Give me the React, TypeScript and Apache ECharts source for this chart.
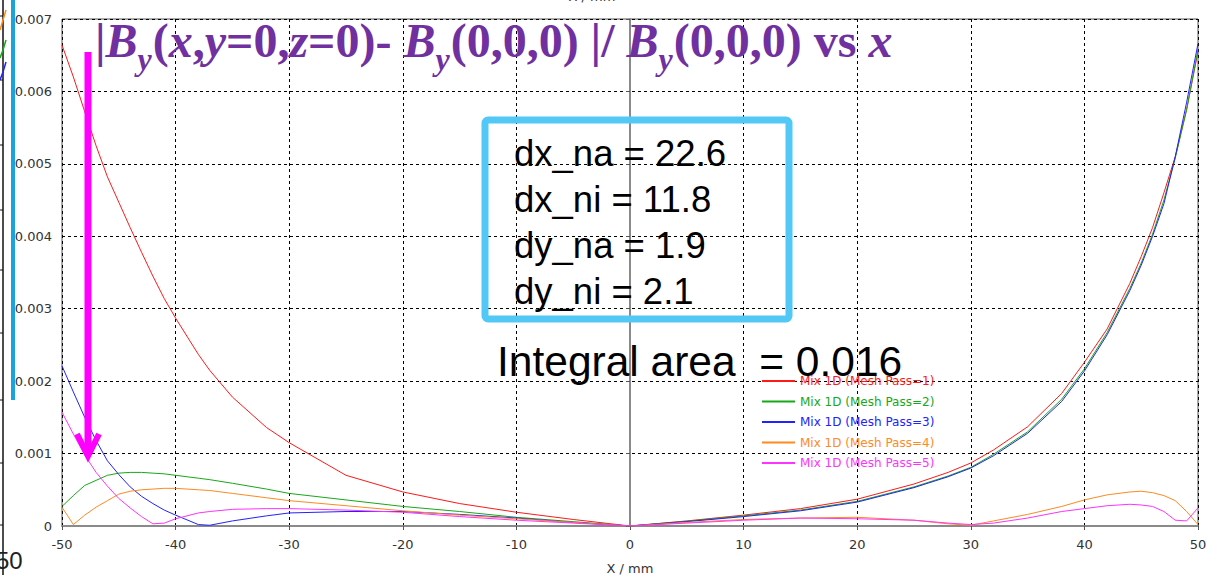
import React, { useEffect, useRef } from "react";
import * as echarts from "echarts";

const xPositions = [-50, -49, -48, -47, -46, -45, -44, -43, -42, -41, -40, -38, -37, -35, -32, -30, -25, -20, -15, -10, -5, 0, 5, 10, 15, 20, 25, 28, 30, 32, 35, 38, 40, 42, 44, 45, 46, 47, 48, 49, 50];

const pass1 = [0.00664, 0.0062, 0.00572, 0.00525, 0.00482, 0.00447, 0.00412, 0.00378, 0.00345, 0.00314, 0.00287, 0.00237, 0.00215, 0.00178, 0.00136, 0.00115, 0.0007, 0.00047, 0.00031, 0.00019, 0.00009, 0, 0.00007, 0.00015, 0.00024, 0.00037, 0.00058, 0.00074, 0.00087, 0.00105, 0.00137, 0.00183, 0.00226, 0.00272, 0.00335, 0.00372, 0.00412, 0.0046, 0.0051, 0.00575, 0.00655];
const pass2 = [0.00027, 0.00042, 0.00056, 0.00063, 0.0007, 0.00073, 0.00074, 0.00074, 0.00073, 0.00072, 0.0007, 0.00066, 0.00064, 0.00059, 0.00051, 0.00045, 0.00036, 0.00027, 0.0002, 0.00012, 0.00006, 0, 0.000065, 0.00014, 0.00022, 0.00034, 0.00054, 0.00069, 0.00081, 0.00099, 0.0013, 0.00175, 0.00217, 0.00267, 0.00328, 0.00363, 0.00403, 0.0045, 0.00508, 0.00575, 0.00658];
const pass3 = [0.00221, 0.00185, 0.0015, 0.00118, 0.0009, 0.00071, 0.00054, 0.00041, 0.00031, 0.00022, 0.00015, 0.00002, 0.00001, 0.00007, 0.00014, 0.00018, 0.0002, 0.0002, 0.00016, 0.00011, 0.00005, 0, 0.00006, 0.00013, 0.00021, 0.00033, 0.00053, 0.00068, 0.0008, 0.00097, 0.00128, 0.00172, 0.00214, 0.00264, 0.00325, 0.0036, 0.004, 0.00445, 0.0051, 0.00585, 0.00666];
const pass4 = [0.00026, 0.00002, 0.00015, 0.00026, 0.00035, 0.00044, 0.00048, 0.0005, 0.00051, 0.00052, 0.00052, 0.0005, 0.00049, 0.00045, 0.00039, 0.00035, 0.00028, 0.00021, 0.00015, 0.0001, 0.00005, 0, 0.00005, 0.00009, 0.00011, 0.00012, 0.00008, 0.00003, 0.00001, 0.00007, 0.00016, 0.00027, 0.00036, 0.00043, 0.00047, 0.00048, 0.00046, 0.00042, 0.00035, 0.0002, 0.00002];
const pass5 = [0.00157, 0.00127, 0.00098, 0.00074, 0.00055, 0.00038, 0.00025, 0.00013, 0.00003, 0.00004, 0.0001, 0.00018, 0.0002, 0.00023, 0.00024, 0.00024, 0.00022, 0.00019, 0.00013, 0.00008, 0.00004, 0, 0.00004, 0.00008, 0.00011, 0.0001, 0.00008, 0.00004, 0.00002, 0.00004, 0.00011, 0.0002, 0.00024, 0.00028, 0.0003, 0.00029, 0.00027, 0.0002, 0.00008, 0.00007, 0.00025];

const seriesNames = [
  "Mix 1D (Mesh Pass=1)",
  "Mix 1D (Mesh Pass=2)",
  "Mix 1D (Mesh Pass=3)",
  "Mix 1D (Mesh Pass=4)",
  "Mix 1D (Mesh Pass=5)",
];
const seriesValues = [pass1, pass2, pass3, pass4, pass5];
const seriesColors = ["#ff1a1a", "#17a817", "#2222ff", "#ff8a1f", "#ff33ff"];

const xTicks = [-50, -40, -30, -20, -10, 0, 10, 20, 30, 40, 50];
const yTicks = [0, 0.001, 0.002, 0.003, 0.004, 0.005, 0.006, 0.007];

// title pieces: [text, kind] where n = upright, i = italic, s = italic subscript
const titlePieces: [string, string][] = [
  ["|", "n"], ["B", "i"], ["y", "s"], ["(", "n"], ["x", "i"], [",", "n"], ["y", "i"], ["=0,", "n"], ["z", "i"],
  ["=0)- ", "n"], ["B", "i"], ["y", "s"], ["(0,0,0) |/ ", "n"], ["B", "i"], ["y", "s"], ["(0,0,0) vs ", "n"], ["x", "i"],
];

const boxLines = ["dx_na = 22.6", "dx_ni = 11.8", "dy_na = 1.9", "dy_ni = 2.1"];
const integralText = "Integral area  = 0.016";

export default function App() {
  const ref = useRef<HTMLDivElement>(null);

  useEffect(() => {
    document.body.style.margin = "0";
    const chart = echarts.init(ref.current!, null, { renderer: "svg" });
    const purple = "#7030a0";
    const fontFor: Record<string, string> = {
      n: "bold 48px 'Liberation Serif'",
      i: "italic bold 48px 'Liberation Serif'",
      s: "italic bold 32px 'Liberation Serif'",
    };
    const ctx = document.createElement("canvas").getContext("2d")!;
    let cx = 95;
    const titleEls: any[] = titlePieces.map(([t, k]) => {
      ctx.font = fontFor[k];
      const w = ctx.measureText(t).width;
      const el = {
        type: "text",
        z: 10,
        x: cx,
        y: k === "s" ? 75 : 64,
        style: { text: t, font: fontFor[k], fill: purple, verticalAlign: "bottom" },
      };
      cx += w + (k === "s" ? 1 : 0);
      return el;
    });

    const option: any = {
      animation: false,
      backgroundColor: "#ffffff",
      grid: {
        left: 62,
        right: 32,
        top: 19,
        bottom: 48,
        show: true,
        borderColor: "#555555",
        borderWidth: 1,
      },
      xAxis: {
        type: "value",
        min: xTicks[0],
        max: xTicks[xTicks.length - 1],
        interval: 10,
        name: "X / mm",
        nameLocation: "middle",
        nameGap: 36,
        nameTextStyle: { fontFamily: "DejaVu Sans", fontSize: 13, color: "#333" },
        axisLine: { lineStyle: { color: "#8a8a8a", width: 2 } },
        axisTick: { show: true, length: 4, lineStyle: { color: "#555" } },
        axisLabel: { fontFamily: "DejaVu Sans", fontSize: 13, color: "#333", margin: 12 },
        splitLine: { show: true, lineStyle: { type: [3, 3], color: "#000", width: 1 } },
      },
      yAxis: {
        type: "value",
        min: yTicks[0],
        max: yTicks[yTicks.length - 1],
        interval: 0.001,
        axisLine: { show: true, lineStyle: { color: "#8a8a8a", width: 2 } },
        axisTick: { show: true, length: 4, lineStyle: { color: "#555" } },
        axisLabel: {
          fontFamily: "DejaVu Sans",
          fontSize: 13,
          color: "#333",
          margin: 10,
          formatter: (v: number) => (v === 0 ? "0" : v.toFixed(3)),
        },
        splitLine: { show: true, lineStyle: { type: [3, 3], color: "#000", width: 1 } },
      },
      legend: {
        orient: "vertical",
        left: 757,
        top: 369,
        itemWidth: 33,
        itemHeight: 2,
        itemGap: 6.5,
        icon: "rect",
        textStyle: { fontFamily: "DejaVu Sans", fontSize: 12, lineHeight: 14 },
        data: seriesNames.map((n, i) => ({ name: n, textStyle: { color: seriesColors[i] } })),
      },
      series: seriesNames.map((n, i) => ({
        name: n,
        type: "line",
        showSymbol: false,
        symbol: "none",
        color: seriesColors[i],
        lineStyle: { width: 1, color: seriesColors[i] },
        data: xPositions.map((x, k) => [x, seriesValues[i][k]]),
        z: 3,
      })),
      graphic: [
        // cropped neighbouring chart fragments on the left edge
        { type: "line", shape: { x1: 3, y1: 0, x2: 3, y2: 575 }, style: { stroke: "#111", lineWidth: 1.5 } },
        ...[16, 80, 145, 210, 270, 333, 400, 463, 525].map((y) => ({
          type: "line",
          shape: { x1: 0, y1: y, x2: 3, y2: y },
          style: { stroke: "#111", lineWidth: 1 },
        })),
        { type: "polyline", shape: { points: [[0, 30], [3, 20], [6, 10]] }, style: { stroke: "#ff8a1f", lineWidth: 1.5, fill: null } },
        { type: "polyline", shape: { points: [[0, 58], [3, 50], [6, 40]] }, style: { stroke: "#17a817", lineWidth: 1.5, fill: null } },
        { type: "polyline", shape: { points: [[0, 80], [3, 72], [6, 62]] }, style: { stroke: "#2222ff", lineWidth: 1.5, fill: null } },
        { type: "text", x: -4, y: 560, style: { text: "50", font: "24px 'Liberation Sans', sans-serif", fill: "#222", verticalAlign: "middle" } },
        { type: "rect", shape: { x: 11, y: 0, width: 4, height: 400 }, style: { fill: "#1aa3dc" } },
        // cropped top axis title
        { type: "text", x: 592, y: -4, style: { text: "X / mm", font: "13px 'DejaVu Sans'", fill: "#333", align: "center", verticalAlign: "middle" } },
        // title
        ...titleEls,
        // magenta arrow
        { type: "line", z: 10, shape: { x1: 88, y1: 52, x2: 88, y2: 452 }, style: { stroke: "#ff00ff", lineWidth: 7 } },
        { type: "polyline", z: 10, shape: { points: [[77, 434], [88, 456], [99, 434]] }, style: { stroke: "#ff00ff", lineWidth: 6, fill: null, lineJoin: "miter" } },
        // box
        { type: "rect", z: 10, shape: { x: 485, y: 120, width: 304, height: 199, r: 3 }, style: { fill: null, stroke: "#52c8f6", lineWidth: 7 } },
        ...boxLines.map((t, i) => ({
          type: "text",
          z: 10,
          x: 514,
          y: 153 + i * 46,
          style: { text: t, font: "36.5px 'Liberation Sans', Arial, sans-serif", fill: "#000", verticalAlign: "middle" },
        })),
        {
          type: "text",
          z: 10,
          x: 497,
          y: 361,
          style: { text: integralText, font: "42.5px 'Liberation Sans', Arial, sans-serif", fill: "#000", verticalAlign: "middle" },
        },
      ],
    };
    chart.setOption(option);
    return () => chart.dispose();
  }, []);

  return (
    <div
      ref={ref}
      style={{ position: "absolute", left: 0, top: 0, width: 1230, height: 580, background: "#fff" }}
    />
  );
}
